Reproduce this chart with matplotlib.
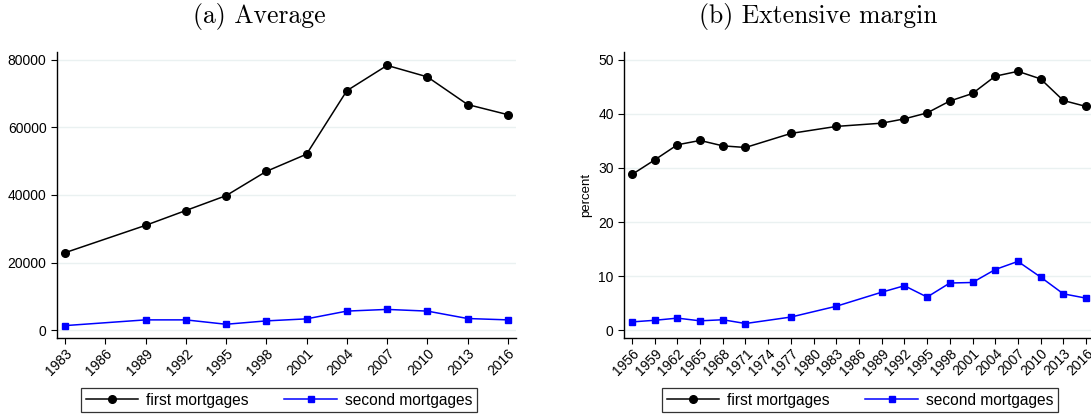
import matplotlib
matplotlib.use("Agg")
import matplotlib.pyplot as plt

plt.rcParams['font.family'] = ['Liberation Sans', 'DejaVu Sans']

# (a) Average
years_a = [1983, 1989, 1992, 1995, 1998, 2001, 2004, 2007, 2010, 2013, 2016]
first_a = [22900, 31000, 35400, 39800, 47000, 52100, 70900, 78400, 75000, 66800, 63800]
second_a = [1300, 3000, 3000, 1700, 2700, 3300, 5600, 6100, 5600, 3400, 3000]
xticks_a = list(range(1983, 2017, 3))

# (b) Extensive margin
years_b = [1956, 1959, 1962, 1965, 1968, 1971, 1977, 1983, 1989, 1992, 1995,
           1998, 2001, 2004, 2007, 2010, 2013, 2016]
first_b = [28.8, 31.5, 34.3, 35.1, 34.1, 33.8, 36.4, 37.7, 38.3, 39.1, 40.2,
           42.4, 43.8, 47.0, 47.9, 46.5, 42.5, 41.4]
second_b = [1.5, 1.8, 2.2, 1.7, 1.9, 1.2, 2.4, 4.4, 7.0, 8.2, 6.1,
            8.7, 8.8, 11.2, 12.7, 9.8, 6.7, 5.9]
xticks_b = list(range(1956, 2017, 3))

fig = plt.figure(figsize=(10.91, 4.16), dpi=100)
ax1 = fig.add_axes([0.0522, 0.1875, 0.4207, 0.6875])
ax2 = fig.add_axes([0.572, 0.1875, 0.428, 0.6875])


def style(ax, x, y1, y2, xticks, ylim, yticks, title, title_x):
    ax.plot(x, y1, color='black', marker='o', markersize=5.5, linewidth=1.1,
            label='first mortgages', clip_on=False, zorder=3)
    ax.plot(x, y2, color='blue', marker='s', markersize=5, linewidth=1.1,
            label='second mortgages', clip_on=False, zorder=3)
    ax.set_xticks(xticks)
    ax.set_xticklabels([str(t) for t in xticks], rotation=45, ha='right',
                       rotation_mode='anchor', fontsize=10)
    ax.set_yticks(yticks)
    ax.tick_params(axis='y', labelsize=10, length=4, width=0.8, direction='out')
    ax.tick_params(axis='x', length=4, width=0.8, direction='out', pad=2)
    ax.set_ylim(*ylim)
    ax.grid(axis='y', color='#eaf1f1', linewidth=1.0)
    ax.set_axisbelow(True)
    for s in ['top', 'right']:
        ax.spines[s].set_visible(False)
    for s in ['left', 'bottom']:
        ax.spines[s].set_linewidth(1.0)
    fig.text(title_x, 1 - 17 / 416, title, ha='center', va='center',
             fontsize=18.5, family='cmr10')
    return ax


style(ax1, years_a, first_a, second_a, xticks_a, (-2370, 82370),
      [0, 20000, 40000, 60000, 80000], '(a) Average', 259 / 1091)
ax1.set_xlim(1982.4, 2016.6)

style(ax2, years_b, first_b, second_b, xticks_b, (-1.48, 51.48),
      [0, 10, 20, 30, 40, 50], '(b) Extensive margin', 818 / 1091)
ax2.set_xlim(1954.95, 2016.66)
ax2.set_ylabel('percent', fontsize=9.5)

for ax, cx in [(ax1, 279 / 1091), (ax2, 860 / 1091)]:
    h, l = ax.get_legend_handles_labels()
    leg = fig.legend(h, l, loc='center', bbox_to_anchor=(cx, 1 - 400 / 416),
                     ncol=2, frameon=True, fancybox=False, fontsize=11.2,
                     handlelength=3.4, columnspacing=2.3, borderpad=0.3,
                     handletextpad=0.5)
    leg.get_frame().set_edgecolor('black')
    leg.get_frame().set_linewidth(0.9)

fig.savefig('out.png', dpi=100)
